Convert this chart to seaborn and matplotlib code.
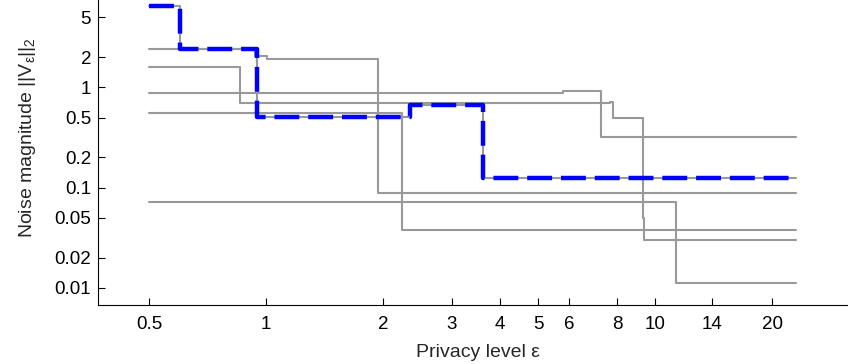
import matplotlib
matplotlib.use("Agg")
import matplotlib.pyplot as plt
import matplotlib.ticker as mticker
import seaborn as sns
import pandas as pd

# ---- data (step functions: value holds from each breakpoint to the next) ----
eps_1 = [0.5, 0.6, 0.95, 2.35, 3.62, 23]
val_1 = [6.5, 2.43, 0.509, 0.666, 0.124, 0.124]

eps_2 = [0.5, 0.937, 1.004, 1.94, 23]
val_2 = [2.43, 2.05, 1.9, 0.0887, 0.0887]

eps_3 = [0.5, 0.857, 7.66, 7.77, 9.29, 9.38, 23]
val_3 = [1.58, 0.692, 0.72, 0.49, 0.0493, 0.0299, 0.0299]

eps_4 = [0.5, 5.79, 7.25, 23]
val_4 = [0.883, 0.918, 0.321, 0.321]

eps_5 = [0.5, 2.23, 23]
val_5 = [0.558, 0.0377, 0.0377]

eps_6 = [0.5, 11.3, 23]
val_6 = [0.0722, 0.0111, 0.0111]

x_ticks = [0.5, 1, 2, 3, 4, 5, 6, 8, 10, 14, 20]
x_tick_labels = ["0.5", "1", "2", "3", "4", "5", "6", "8", "10", "14", "20"]
y_ticks = [0.01, 0.02, 0.05, 0.1, 0.2, 0.5, 1, 2, 5]
y_tick_labels = ["0.01", "0.02", "0.05", "0.1", "0.2", "0.5", "1", "2", "5"]

series = [(eps_1, val_1), (eps_2, val_2), (eps_3, val_3),
          (eps_4, val_4), (eps_5, val_5), (eps_6, val_6)]
frames = []
for i, (e, v) in enumerate(series):
    frames.append(pd.DataFrame({"eps": e, "noise": v, "run": i}))
df = pd.concat(frames, ignore_index=True)
df_hi = pd.DataFrame({"eps": eps_1, "noise": val_1})

# ---- styling ----
sns.set_style("ticks")
plt.rcParams["font.family"] = ["Liberation Sans", "DejaVu Sans"]
plt.rcParams["mathtext.fontset"] = "custom"
plt.rcParams["mathtext.rm"] = "Liberation Sans"
plt.rcParams["mathtext.it"] = "Liberation Sans"

fig = plt.figure(figsize=(8.48, 3.64), dpi=100)
ax = fig.add_axes([98 / 848, 59.5 / 364, 1 - 98 / 848, 1 - 59.5 / 364])

for run, g in df.groupby("run"):
    sns.lineplot(data=g, x="eps", y="noise", ax=ax, color="#999999",
                 linewidth=1.5, drawstyle="steps-post", estimator=None,
                 sort=False, legend=False)

sns.lineplot(data=df_hi, x="eps", y="noise", ax=ax, color="#0000ff",
             linewidth=3.2, drawstyle="steps-post", estimator=None,
             sort=False, legend=False, dashes=False)
ax.lines[-1].set_dashes([5.6, 2.0])

ax.set_xscale("log")
ax.set_yscale("log")
ax.set_xlim(0.37, 31.3)
ax.set_ylim(0.00683, 7.43)

ax.xaxis.set_major_locator(mticker.FixedLocator(x_ticks))
ax.xaxis.set_major_formatter(mticker.FixedFormatter(x_tick_labels))
ax.xaxis.set_minor_locator(mticker.NullLocator())
ax.yaxis.set_major_locator(mticker.FixedLocator(y_ticks))
ax.yaxis.set_major_formatter(mticker.FixedFormatter(y_tick_labels))
ax.yaxis.set_minor_locator(mticker.NullLocator())

ax.tick_params(direction="in", length=5, width=0.8, labelsize=13.5,
               colors="black")
ax.tick_params(axis="x", pad=8)
ax.tick_params(axis="y", pad=5)
for s in ["left", "bottom"]:
    ax.spines[s].set_color("black")
    ax.spines[s].set_linewidth(0.8)
sns.despine(ax=ax)

ax.set_xlabel("Privacy level ε", fontsize=14, labelpad=8)
ax.set_ylabel("Noise magnitude ||V$_{ε}$||$_2$", fontsize=14, labelpad=12)
ax.yaxis.label.set_y(0.548)
ax.xaxis.label.set_x(0.507)

fig.savefig("out.png", dpi=100)
